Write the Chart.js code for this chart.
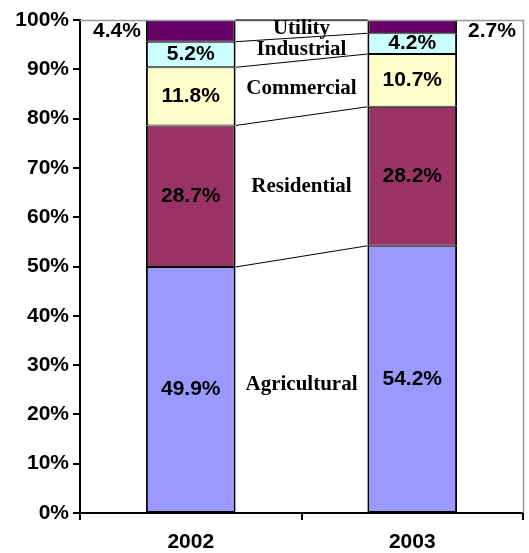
<!DOCTYPE html>
<html>
<head>
<meta charset="utf-8">
<script src="https://cdn.jsdelivr.net/npm/chart.js@4/dist/chart.umd.min.js"></script>
<style>
html,body{margin:0;padding:0;background:#fff;}
#wrap{position:relative;width:529px;height:553px;}
</style>
</head>
<body>
<div id="wrap"><canvas id="c" width="529" height="553"></canvas></div>
<script>
const categories = ['2002', '2003'];
const seriesNames = ['Agricultural', 'Residential', 'Commercial', 'Industrial', 'Utility'];
const agricultural = [49.9, 54.2];
const residential = [28.7, 28.2];
const commercial = [11.8, 10.7];
const industrial = [5.2, 4.2];
const utility = [4.4, 2.7];
const seriesColors = ['#9999FF', '#993366', '#FFFFCC', '#CCFFFF', '#660066'];
const yTickValues = [0, 10, 20, 30, 40, 50, 60, 70, 80, 90, 100];

const seriesValues = [agricultural, residential, commercial, industrial, utility];

const labelPlugin = {
  id: 'labelPlugin',
  afterDatasetsDraw(chart) {
    const ctx = chart.ctx;
    const ca = chart.chartArea;
    ctx.save();
    // plot area border (top and right), gray
    ctx.strokeStyle = '#999999';
    ctx.lineWidth = 1.5;
    ctx.beginPath();
    ctx.moveTo(ca.left, ca.top + 0.5);
    ctx.lineTo(ca.right + 0.5, ca.top + 0.5);
    ctx.lineTo(ca.right + 0.5, ca.bottom);
    ctx.stroke();

    // series lines
    ctx.strokeStyle = '#000';
    ctx.lineWidth = 1;
    chart.data.datasets.forEach((ds, i) => {
      const meta = chart.getDatasetMeta(i);
      const a = meta.data[0], b = meta.data[1];
      ctx.beginPath();
      ctx.moveTo(a.x + a.width / 2, a.y);
      ctx.lineTo(b.x - b.width / 2, b.y);
      ctx.stroke();
    });

    // value labels
    ctx.fillStyle = '#000';
    ctx.font = 'bold 21px "Liberation Sans", Arial, sans-serif';
    ctx.textBaseline = 'middle';
    chart.data.datasets.forEach((ds, i) => {
      const meta = chart.getDatasetMeta(i);
      meta.data.forEach((el, j) => {
        const txt = ds.data[j].toFixed(1) + '%';
        const cy = (el.y + el.base) / 2;
        if (i === chart.data.datasets.length - 1) {
          const ly = Math.max(cy, ca.top + 11);
          if (j === 0) {
            ctx.textAlign = 'right';
            ctx.fillText(txt, el.x - el.width / 2 - 5, ly);
          } else {
            ctx.textAlign = 'left';
            ctx.fillText(txt, el.x + el.width / 2 + 11, ly);
          }
        } else {
          ctx.textAlign = 'center';
          ctx.fillText(txt, el.x, cy);
        }
      });
    });

    // series names between the bars
    ctx.font = 'bold 21px "Liberation Serif", "Times New Roman", serif';
    ctx.textAlign = 'center';
    chart.data.datasets.forEach((ds, i) => {
      const meta = chart.getDatasetMeta(i);
      const a = meta.data[0], b = meta.data[1];
      const cx = ((a.x + a.width / 2) + (b.x - b.width / 2)) / 2;
      const cy = ((a.y + a.base) / 2 + (b.y + b.base) / 2) / 2;
      ctx.fillText(ds.label, cx, cy);
    });
    ctx.restore();
  }
};

new Chart(document.getElementById('c'), {
  type: 'bar',
  data: {
    labels: categories,
    datasets: seriesNames.map((name, i) => ({
      label: name,
      data: seriesValues[i],
      backgroundColor: seriesColors[i],
      borderColor: '#000',
      borderWidth: {left: 2, right: 2, top: 1, bottom: 1},
      borderSkipped: false,
      categoryPercentage: 1,
      barPercentage: 0.405
    }))
  },
  options: {
    responsive: false,
    animation: false,
    layout: {padding: {top: 20, right: 6, left: 0, bottom: 0}},
    plugins: {legend: {display: false}, tooltip: {enabled: false}},
    scales: {
      x: {
        stacked: true,
        offset: true,
        grid: {offset: true, drawOnChartArea: false, drawTicks: true, tickLength: 7, color: '#000', lineWidth: 2},
        border: {color: '#000', width: 2},
        ticks: {color: '#000', font: {family: '"Liberation Sans", Arial, sans-serif', size: 21, weight: 'bold'}, padding: 10},
        afterFit(axis) { axis.height = 40; }
      },
      y: {
        stacked: true,
        min: 0,
        max: 100,
        afterBuildTicks(axis) { axis.ticks = yTickValues.map(v => ({value: v})); },
        grid: {drawOnChartArea: false, drawTicks: true, tickLength: 7, color: '#000', lineWidth: 2},
        border: {color: '#000', width: 2},
        ticks: {color: '#000', font: {family: '"Liberation Sans", Arial, sans-serif', size: 21, weight: 'bold'}, padding: 4,
          callback: v => v + '%'},
        afterFit(axis) { axis.width = 80; }
      }
    }
  },
  plugins: [labelPlugin]
});
</script>
</body>
</html>
